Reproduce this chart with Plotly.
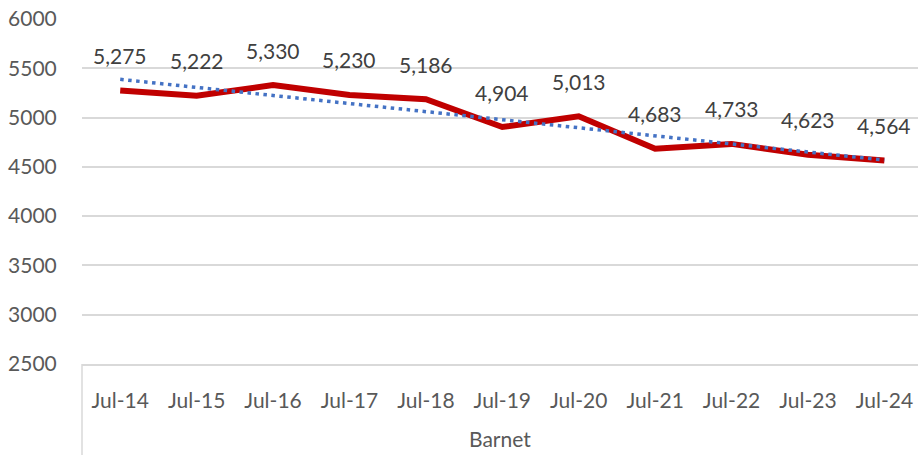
import numpy as np
import plotly.graph_objects as go

# Annual figures for Barnet, July of each year
categories = ["Jul-14", "Jul-15", "Jul-16", "Jul-17", "Jul-18", "Jul-19",
              "Jul-20", "Jul-21", "Jul-22", "Jul-23", "Jul-24"]
values = [5275, 5222, 5330, 5230, 5186, 4904, 5013, 4683, 4733, 4623, 4564]
group_label = "Barnet"
y_ticks = [2500, 3000, 3500, 4000, 4500, 5000, 5500, 6000]

FONT = "Lato, 'Open Sans', sans-serif"
SIZE = 21

# Linear trend across the series
idx = np.arange(len(values))
slope, intercept = np.polyfit(idx, values, 1)
trend = slope * idx + intercept

fig = go.Figure()
fig.add_trace(go.Scatter(
    x=categories, y=values, mode="lines",
    line=dict(color="#C00000", width=6), showlegend=False,
))
fig.add_trace(go.Scatter(
    x=categories, y=trend, mode="lines",
    line=dict(color="#4472C4", width=3.5, dash="3.5px,4.5px"), showlegend=False,
))

# Value labels above each point
for c, v in zip(categories, values):
    fig.add_annotation(
        x=c, y=v, text=f"{v:,}", showarrow=False, yshift=35,
        font=dict(family=FONT, size=SIZE, color="#404040"),
    )

# Group label under the category labels
fig.add_annotation(
    x=0.5, xref="paper", y=-0.215, yref="paper", yanchor="middle",
    text=group_label, showarrow=False,
    font=dict(family=FONT, size=SIZE, color="#595959"),
)
# Left border of the category label box
fig.add_shape(type="line", xref="paper", yref="paper",
              x0=0, x1=0, y0=0, y1=-0.27,
              line=dict(color="#D9D9D9", width=1.5))

fig.update_layout(
    width=918, height=455,
    margin=dict(l=82, r=0, t=19, b=91),
    plot_bgcolor="white", paper_bgcolor="white",
    font=dict(family=FONT, size=SIZE, color="#595959"),
    xaxis=dict(
        type="category", range=[-0.5, 10.44],
        showgrid=False, zeroline=False,
        showline=True, linecolor="#D9D9D9", linewidth=1.5,
        ticks="outside", ticklen=17, tickcolor="rgba(0,0,0,0)",
        tickfont=dict(family=FONT, size=SIZE, color="#595959"),
    ),
    yaxis=dict(
        range=[2500, 6000], tickvals=y_ticks,
        showgrid=True, gridcolor="#D9D9D9", gridwidth=1.5,
        zeroline=False, showline=False,
        ticks="outside", ticklen=20, tickcolor="rgba(0,0,0,0)",
        tickfont=dict(family=FONT, size=SIZE, color="#595959"),
    ),
)

fig.write_html("out.html")
